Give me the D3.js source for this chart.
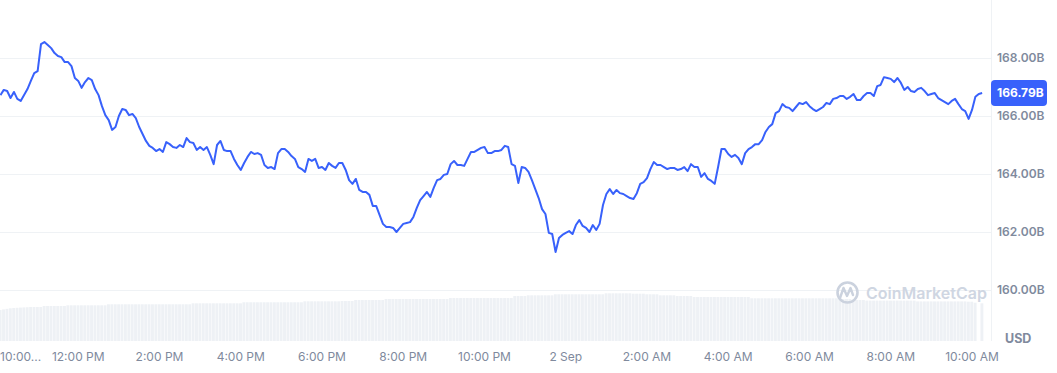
<!DOCTYPE html>
<html>
<head>
<meta charset="utf-8">
<script src="https://cdn.jsdelivr.net/npm/d3@7"></script>
<style>
  html, body { margin: 0; padding: 0; background: #fff; }
  svg { display: block; font-family: Inter, "Noto Sans", sans-serif; }
</style>
</head>
<body>
<div id="chart"></div>
<script>
// Market cap (B USD), one sample every 5 minutes from 1 Sep 10:05 to 2 Sep 10:15
const startTime = new Date(2024, 8, 1, 10, 5);
const stepMinutes = 5;

const marketCap = [
  166.72, 166.90, 166.86, 166.62, 166.83, 166.59, 166.52, 166.72, 166.93, 167.21, 167.48, 167.55,
  168.48, 168.55, 168.45, 168.34, 168.17, 168.07, 168.03, 167.86, 167.86, 167.72, 167.31, 167.21,
  166.97, 167.17, 167.31, 167.24, 166.93, 166.72, 166.34, 166.03, 165.86, 165.52, 165.62, 166.00,
  166.24, 166.21, 166.03, 166.07, 165.93, 165.62, 165.38, 165.14, 164.97, 164.90, 164.79, 164.86,
  164.76, 165.10, 165.03, 164.93, 164.90, 165.00, 164.93, 165.24, 165.10, 165.07, 164.83, 164.93,
  164.83, 164.93, 164.66, 164.34, 165.00, 165.14, 164.83, 164.79, 164.79, 164.52, 164.31, 164.14,
  164.38, 164.59, 164.76, 164.69, 164.72, 164.66, 164.31, 164.21, 164.24, 164.17, 164.72, 164.86,
  164.86, 164.76, 164.62, 164.52, 164.24, 164.17, 164.07, 164.52, 164.45, 164.52, 164.21, 164.24,
  164.14, 164.38, 164.28, 164.21, 164.38, 164.38, 164.14, 163.79, 163.66, 163.83, 163.45, 163.38,
  163.38, 163.28, 162.90, 162.90, 162.59, 162.28, 162.17, 162.17, 162.14, 162.00, 162.14, 162.28,
  162.31, 162.34, 162.52, 162.83, 163.10, 163.24, 163.38, 163.21, 163.52, 163.79, 163.83, 163.97,
  164.00, 164.34, 164.45, 164.31, 164.31, 164.28, 164.52, 164.76, 164.76, 164.83, 164.90, 164.93,
  164.72, 164.72, 164.79, 164.79, 164.83, 164.97, 164.93, 164.34, 164.28, 163.69, 164.24, 164.21,
  164.07, 163.79, 163.48, 163.17, 162.79, 162.62, 161.97, 161.93, 161.31, 161.79, 161.90, 161.97,
  162.03, 161.93, 162.24, 162.41, 162.21, 162.14, 162.00, 162.24, 162.07, 162.28, 162.93, 163.31,
  163.48, 163.31, 163.45, 163.34, 163.31, 163.24, 163.17, 163.14, 163.34, 163.66, 163.72, 163.86,
  164.17, 164.41, 164.31, 164.31, 164.24, 164.17, 164.21, 164.21, 164.14, 164.17, 164.24, 164.10,
  164.34, 164.24, 164.24, 163.90, 164.03, 163.83, 163.76, 163.66, 164.24, 164.86, 164.86, 164.69,
  164.59, 164.66, 164.55, 164.34, 164.72, 164.86, 164.93, 165.03, 165.03, 165.17, 165.45, 165.62,
  165.72, 166.10, 166.17, 166.41, 166.31, 166.28, 166.17, 166.31, 166.45, 166.41, 166.48, 166.34,
  166.24, 166.17, 166.24, 166.31, 166.45, 166.41, 166.59, 166.62, 166.69, 166.69, 166.59, 166.66,
  166.76, 166.55, 166.55, 166.69, 166.79, 166.79, 166.69, 167.03, 167.07, 167.34, 167.31, 167.28,
  167.17, 167.31, 167.14, 166.90, 167.00, 166.86, 166.83, 166.93, 166.97, 166.86, 166.72, 166.76,
  166.79, 166.62, 166.55, 166.48, 166.41, 166.52, 166.59, 166.41, 166.24, 166.17, 165.90, 166.21,
  166.66, 166.76, 166.79
];

// 24h volume (B USD) for the same samples, null = no data
const volume = [
  3.88, 3.95, 4.02, 4.09, 4.12, 4.15, 4.18, 4.20, 4.22, 4.25, 4.25, 4.25,
  4.25, 4.38, 4.38, 4.38, 4.38, 4.38, 4.38, 4.38, 4.46, 4.46, 4.46, 4.46,
  4.46, 4.46, 4.46, 4.46, 4.46, 4.46, 4.46, 4.46, 4.59, 4.59, 4.59, 4.59,
  4.59, 4.59, 4.59, 4.59, 4.59, 4.59, 4.59, 4.59, 4.59, 4.59, 4.59, 4.59,
  4.59, 4.59, 4.59, 4.59, 4.59, 4.59, 4.59, 4.59, 4.59, 4.71, 4.71, 4.71,
  4.71, 4.71, 4.71, 4.71, 4.71, 4.71, 4.71, 4.71, 4.71, 4.71, 4.71, 4.71,
  4.84, 4.84, 4.84, 4.84, 4.84, 4.84, 4.84, 4.84, 4.84, 4.84, 4.84, 4.84,
  4.84, 4.84, 4.84, 4.84, 4.84, 4.84, 4.96, 4.96, 4.96, 4.96, 4.96, 4.96,
  4.96, 4.96, 4.96, 4.96, 4.96, 5.00, 5.00, 5.00, 5.00, 5.12, 5.12, 5.12,
  5.12, 5.12, 5.12, 5.12, 5.12, 5.12, 5.25, 5.25, 5.25, 5.25, 5.25, 5.25,
  5.25, 5.25, 5.25, 5.25, 5.25, 5.25, 5.25, 5.25, 5.25, 5.25, 5.25, 5.25,
  5.25, 5.37, 5.37, 5.37, 5.37, 5.37, 5.37, 5.37, 5.37, 5.37, 5.37, 5.37,
  5.37, 5.37, 5.37, 5.37, 5.37, 5.37, 5.37, 5.37, 5.62, 5.62, 5.62, 5.62,
  5.71, 5.71, 5.71, 5.71, 5.71, 5.71, 5.71, 5.71, 5.84, 5.84, 5.84, 5.84,
  5.84, 5.84, 5.84, 5.84, 5.84, 5.84, 5.84, 5.84, 5.84, 5.84, 5.84, 5.96,
  5.96, 5.96, 5.96, 5.96, 5.96, 5.96, 5.96, 5.91, 5.91, 5.91, 5.91, 5.84,
  5.84, 5.84, 5.84, 5.71, 5.71, 5.71, 5.71, 5.71, 5.62, 5.62, 5.62, 5.62,
  5.62, 5.50, 5.50, 5.50, 5.50, 5.50, 5.50, 5.50, 5.50, 5.50, 5.50, 5.50,
  5.50, 5.50, 5.50, 5.50, 5.50, 5.50, 5.34, 5.34, 5.34, 5.34, 5.34, 5.34,
  5.34, 5.34, 5.34, 5.34, 5.34, 5.34, 5.34, 5.34, 5.34, 5.34, 5.34, 5.34,
  5.34, 5.34, 5.34, 5.34, 5.34, 5.34, 5.34, 5.34, 5.34, 5.25, 5.25, 5.25,
  5.12, 5.12, 5.12, 5.12, 5.05, 5.05, 5.05, 5.05, 5.05, 5.05, 5.05, 5.05,
  5.05, 5.05, 5.05, 5.05, 5.05, 5.05, 5.05, 4.95, 4.95, 4.95, 4.95, 4.95,
  4.95, 4.95, 4.95, 4.95, 4.95, 4.95, 4.95, 4.95, 4.95, 4.95, 4.91, 4.91,
  4.79, null, 4.71
];

const yTicks = [160, 162, 164, 166, 168];
const currentLabel = '166.79B';
const currencyLabel = 'USD';
const watermark = 'CoinMarketCap';

const width = 1057;
const height = 373;
const plotRight = 991;
const plotBottom = 341;

const data = marketCap.map((v, i) => ({
  date: new Date(startTime.getTime() + i * stepMinutes * 60000),
  value: v,
  volume: volume[i]
}));

const svg = d3.select('#chart')
  .append('svg')
  .attr('width', width)
  .attr('height', height);

// 10:00 AM -> 10:00 AM next day spans 975px
const x = d3.scaleTime()
  .domain([new Date(2024, 8, 1, 10, 0), new Date(2024, 8, 2, 10, 0)])
  .range([-3, 972]);

const y = d3.scaleLinear()
  .domain([160, 168])
  .range([290, 58]);

const yVol = d3.scaleLinear()
  .domain([0, 40])
  .range([plotBottom, 21]);

// Volume bars
const barStep = x(new Date(startTime.getTime() + stepMinutes * 60000)) - x(startTime);
svg.append('g')
  .selectAll('rect')
  .data(data.filter(d => d.volume != null))
  .enter()
  .append('rect')
  .attr('x', d => x(d.date) - barStep / 2)
  .attr('width', barStep - 0.5)
  .attr('y', d => yVol(d.volume))
  .attr('height', d => plotBottom - yVol(d.volume))
  .attr('fill', '#eef1f5');

// Grid lines
svg.append('g')
  .selectAll('line')
  .data(yTicks)
  .enter()
  .append('line')
  .attr('x1', 0)
  .attr('x2', plotRight)
  .attr('y1', d => Math.round(y(d)) + 0.5)
  .attr('y2', d => Math.round(y(d)) + 0.5)
  .attr('stroke', '#eff2f5')
  .attr('stroke-width', 1);

// Right border
svg.append('line')
  .attr('x1', plotRight + 0.5)
  .attr('x2', plotRight + 0.5)
  .attr('y1', 0)
  .attr('y2', plotBottom)
  .attr('stroke', '#eff2f5');

// Watermark
const wm = svg.append('g').attr('opacity', 1);
wm.append('circle')
  .attr('cx', 847.5)
  .attr('cy', 292.5)
  .attr('r', 10)
  .attr('fill', 'none')
  .attr('stroke', '#cbd2de')
  .attr('stroke-width', 2.6);
wm.append('path')
  .attr('d', 'M840,298 L843.5,288 L847,296 L850.5,288 L853,295')
  .attr('fill', 'none')
  .attr('stroke', '#cbd2de')
  .attr('stroke-width', 2.4)
  .attr('stroke-linejoin', 'round')
  .attr('stroke-linecap', 'round');
wm.append('text')
  .attr('x', 866)
  .attr('y', 299)
  .attr('font-size', 16)
  .attr('font-weight', 600)
  .attr('fill', '#cfd6e2')
  .text(watermark);

// Price line
const line = d3.line()
  .x(d => x(d.date))
  .y(d => y(d.value));

svg.append('path')
  .datum(data)
  .attr('d', line)
  .attr('fill', 'none')
  .attr('stroke', '#3861fb')
  .attr('stroke-width', 2)
  .attr('stroke-linejoin', 'round');

// Y tick labels
svg.append('g')
  .selectAll('text')
  .data(yTicks)
  .enter()
  .append('text')
  .attr('x', 997)
  .attr('y', d => y(d))
  .attr('dy', '0.35em')
  .attr('font-size', 12)
  .attr('font-weight', 600)
  .attr('fill', '#808a9d')
  .text(d => d.toFixed(2) + 'B');

// Current value badge
const last = data[data.length - 1];
const badge = svg.append('g');
badge.append('rect')
  .attr('x', plotRight)
  .attr('y', y(last.value) - 13)
  .attr('width', 56)
  .attr('height', 26)
  .attr('rx', 4)
  .attr('fill', '#3861fb');
badge.append('text')
  .attr('x', 997)
  .attr('y', y(last.value))
  .attr('dy', '0.35em')
  .attr('font-size', 12)
  .attr('font-weight', 700)
  .attr('fill', '#fff')
  .text(currentLabel);

// Currency
svg.append('text')
  .attr('x', 1005)
  .attr('y', 339)
  .attr('dy', '0.35em')
  .attr('font-size', 12.5)
  .attr('font-weight', 700)
  .attr('fill', '#808a9d')
  .text(currencyLabel);

// X tick labels
const xTicks = x.ticks(d3.timeHour.every(2));
const fmtTime = d3.timeFormat('%-I:%M %p');
const fmtDay = d3.timeFormat('%-d %b');

svg.append('g')
  .selectAll('text')
  .data(xTicks)
  .enter()
  .append('text')
  .attr('x', (d, i) => i === 0 ? 0 : x(d))
  .attr('y', 357)
  .attr('dy', '0.35em')
  .attr('text-anchor', (d, i) => i === 0 ? 'start' : 'middle')
  .attr('font-size', 12)
  .attr('fill', '#808a9d')
  .text((d, i) => {
    if (d.getHours() === 0) return fmtDay(d);
    const s = fmtTime(d);
    return i === 0 ? s.slice(0, 5) + '...' : s;
  });
</script>
</body>
</html>
